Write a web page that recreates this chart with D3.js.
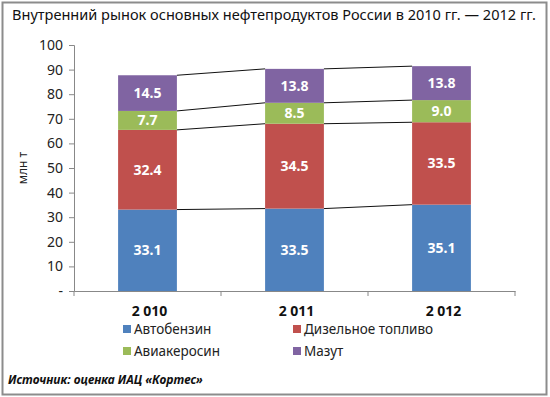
<!DOCTYPE html>
<html>
<head>
<meta charset="utf-8">
<script src="https://cdn.jsdelivr.net/npm/d3@7"></script>
<style>
  body { margin: 0; background: #fff; }
  svg { display: block; font-family: "Noto Sans", sans-serif; }
</style>
</head>
<body>
<svg id="chart" width="550" height="397"></svg>
<script>
const years = ["2 010", "2 011", "2 012"];
const seriesNames = ["Автобензин", "Дизельное топливо", "Авиакеросин", "Мазут"];
const seriesColors = ["#4f81bd", "#c0504d", "#9bbb59", "#8064a2"];
const gasoline = [33.1, 33.5, 35.1];
const diesel = [32.4, 34.5, 33.5];
const jetFuel = [7.7, 8.5, 9.0];
const fuelOil = [14.5, 13.8, 13.8];
const yTicks = [0, 10, 20, 30, 40, 50, 60, 70, 80, 90, 100];

const svg = d3.select("#chart");
const width = 550;
const height = 397;

// frame
svg.append("rect")
  .attr("x", 2.5).attr("y", 2.5)
  .attr("width", width - 6).attr("height", height - 5)
  .attr("fill", "none").attr("stroke", "#8c8c8c").attr("stroke-width", 2);

svg.append("text")
  .attr("x", 12).attr("y", 20)
  .attr("font-size", 14)
  .attr("textLength", 524)
  .attr("lengthAdjust", "spacingAndGlyphs")
  .attr("fill", "#111")
  .text("Внутренний рынок основных нефтепродуктов России в 2010 гг. — 2012 гг.");

const x = d3.scaleBand().domain(years).range([74, 515]).paddingInner(0.6).paddingOuter(0.3);
const y = d3.scaleLinear().domain([0, 100]).range([291, 45]);

const rows = years.map((yr, i) => ({ year: yr, gasoline: gasoline[i], diesel: diesel[i], jetFuel: jetFuel[i], fuelOil: fuelOil[i] }));
const keys = ["gasoline", "diesel", "jetFuel", "fuelOil"];
const stacked = d3.stack().keys(keys)(rows);

// axes
const yAxis = svg.append("g")
  .attr("transform", "translate(74,0)")
  .call(d3.axisLeft(y).tickValues(yTicks).tickSize(5).tickPadding(6)
    .tickFormat((d) => (d === 0 ? "-" : d)));
yAxis.select(".domain").attr("stroke", "#888");
yAxis.selectAll(".tick line").attr("stroke", "#888");
yAxis.selectAll(".tick text").attr("font-size", 14).attr("fill", "#222")
  .attr("font-family", "Noto Sans, sans-serif");

const xAxis = svg.append("g")
  .attr("transform", "translate(0,291)")
  .call(d3.axisBottom(x).tickSize(0).tickFormat(""));
xAxis.select(".domain").attr("stroke", "#888");
xAxis.selectAll(".tick").remove();

const bounds = [74, ...years.slice(0, -1).map((yr) => x(yr) + x.bandwidth() + x.step() * x.paddingInner() / 2), 515];
svg.append("g").selectAll("line").data(bounds).join("line")
  .attr("x1", (d) => d).attr("x2", (d) => d)
  .attr("y1", 291).attr("y2", 296)
  .attr("stroke", "#888");

svg.append("g").selectAll("text").data(years).join("text")
  .attr("x", (d) => x(d) + x.bandwidth() / 2 + 2)
  .attr("y", 316)
  .attr("text-anchor", "middle")
  .attr("font-size", 14).attr("font-weight", "bold").attr("fill", "#111")
  .text((d) => d);

svg.append("text")
  .attr("transform", "translate(27,168) rotate(-90)")
  .attr("text-anchor", "middle")
  .attr("font-size", 12).attr("fill", "#222")
  .text("млн т");

// connector lines
stacked.forEach((layer) => {
  for (let i = 0; i < years.length - 1; i++) {
    svg.append("line")
      .attr("x1", x(years[i]) + x.bandwidth())
      .attr("y1", y(layer[i][1]))
      .attr("x2", x(years[i + 1]))
      .attr("y2", y(layer[i + 1][1]))
      .attr("stroke", "#111").attr("stroke-width", 1);
  }
});

// bars
stacked.forEach((layer, k) => {
  const g = svg.append("g");
  g.selectAll("rect").data(layer).join("rect")
    .attr("x", (d) => x(d.data.year))
    .attr("y", (d) => y(d[1]))
    .attr("width", x.bandwidth())
    .attr("height", (d) => y(d[0]) - y(d[1]))
    .attr("fill", seriesColors[k]);
  g.selectAll("text").data(layer).join("text")
    .attr("x", (d) => x(d.data.year) + x.bandwidth() / 2)
    .attr("y", (d) => (y(d[0]) + y(d[1])) / 2 + 5)
    .attr("text-anchor", "middle")
    .attr("font-size", 14).attr("font-weight", "bold").attr("fill", "#fff")
    .text((d) => d3.format(".1f")(d[1] - d[0]));
});

// legend
const legend = svg.append("g");
seriesNames.forEach((name, i) => {
  const lx = i % 2 === 0 ? 123 : 293;
  const ly = i < 2 ? 330 : 352;
  legend.append("rect")
    .attr("x", lx).attr("y", ly - 5)
    .attr("width", 8).attr("height", 8)
    .attr("fill", seriesColors[i]);
  legend.append("text")
    .attr("x", lx + 11).attr("y", ly + 4)
    .attr("font-size", 13.5).attr("fill", "#222")
    .text(name);
});

svg.append("text")
  .attr("x", 8).attr("y", 384)
  .attr("font-size", 12).attr("font-style", "italic").attr("font-weight", "bold")
  .attr("fill", "#111")
  .text("Источник: оценка ИАЦ «Кортес»");
</script>
</body>
</html>
